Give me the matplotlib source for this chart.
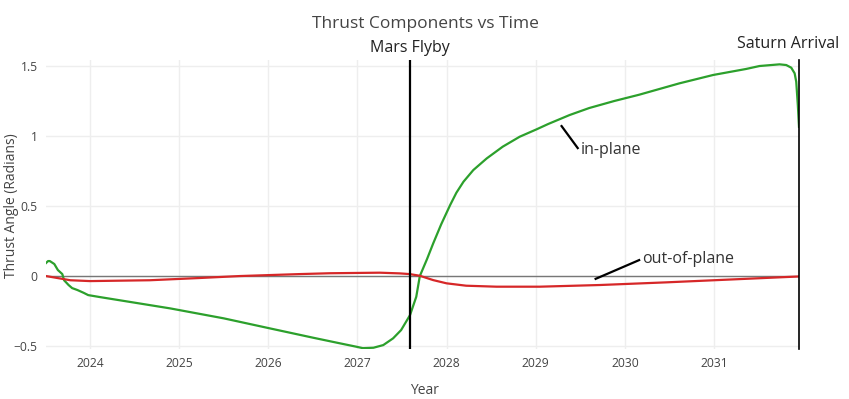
import numpy as np
import matplotlib.pyplot as plt
from matplotlib.ticker import FuncFormatter

plt.rcParams['font.family'] = ['Open Sans', 'DejaVu Sans']

# 数据
in_year = [2023.507, 2023.53, 2023.55, 2023.6, 2023.64, 2023.69, 2023.71, 2023.76, 2023.8,
           2023.86, 2023.93, 2023.98, 2024.11, 2024.9, 2025.5, 2026.02, 2026.5, 2026.8,
           2026.99, 2027.06, 2027.18, 2027.29, 2027.4, 2027.49, 2027.59, 2027.66, 2027.70,
           2027.78, 2027.85, 2027.94, 2028.04, 2028.11, 2028.19, 2028.3, 2028.45, 2028.63,
           2028.82, 2029.01, 2029.14, 2029.38, 2029.6, 2029.88, 2030.16, 2030.61, 2030.99,
           2031.36, 2031.51, 2031.735, 2031.81, 2031.866, 2031.904, 2031.922, 2031.94,
           2031.953]
in_plane = [0.093, 0.107, 0.107, 0.086, 0.043, 0.014, -0.03, -0.064, -0.086,
            -0.1, -0.12, -0.136, -0.15, -0.231, -0.302, -0.374, -0.44, -0.48,
            -0.505, -0.515, -0.512, -0.493, -0.445, -0.386, -0.279, -0.148, 0.0,
            0.12, 0.233, 0.37, 0.507, 0.595, 0.674, 0.757, 0.84, 0.924,
            0.995, 1.048, 1.086, 1.15, 1.2, 1.25, 1.295, 1.376, 1.436,
            1.479, 1.5, 1.512, 1.507, 1.488, 1.448, 1.388, 1.22,
            1.066]

out_year = [2023.507, 2023.78, 2024.0, 2024.67, 2025.23, 2025.68, 2026.35, 2026.69,
            2027.25, 2027.475, 2027.587, 2027.7, 2027.85, 2028.0, 2028.22, 2028.56,
            2029.045, 2029.72, 2030.465, 2031.21, 2031.953]
out_plane = [0.0, -0.03, -0.036, -0.03, -0.014, 0.0, 0.014, 0.02,
             0.024, 0.019, 0.014, 0.002, -0.029, -0.052, -0.069, -0.076,
             -0.076, -0.064, -0.045, -0.024, -0.003]

mars_flyby = 2027.594
saturn_arrival = 2031.953
x_range = [2023.507, 2031.953]
y_range = [-0.521, 1.543]

fig = plt.figure(figsize=(8.49, 3.99), dpi=100)
ax = fig.add_axes([46/849, 1 - 349/399, 753/849, 289/399])

ax.plot(x_range, [0, 0], color='#777777', lw=1.0, zorder=2)
ax.plot(in_year, in_plane, color='#2ca02c', lw=1.6, zorder=3)
ax.plot(out_year, out_plane, color='#d62728', lw=1.6, zorder=3)

ax.set_xlim(x_range)
ax.set_ylim(y_range)
ax.set_xticks(range(2024, 2032))
ax.set_yticks([-0.5, 0, 0.5, 1, 1.5])
ax.yaxis.set_major_formatter(FuncFormatter(lambda v, p: f'{v:g}'.replace('-', '\u2212')))
ax.grid(True, color='#eeeeee', lw=1.0)
ax.set_axisbelow(True)
for s in ax.spines.values():
    s.set_visible(False)
ax.tick_params(length=0, labelsize=8.7, colors='#444444', pad=6)

# 事件竖线
ax.axvline(mars_flyby, color='black', lw=1.6, zorder=4)
ax.axvline(saturn_arrival, color='black', lw=1.2, zorder=4, clip_on=False)
fig.text(ax.transData.transform((mars_flyby, 0))[0] / 849, 1 - 48/399, 'Mars Flyby',
         ha='center', va='center', fontsize=11.5, color='#222222')
fig.text(788/849, 1 - 44/399, 'Saturn Arrival', ha='center', va='center',
         fontsize=11.5, color='#222222')

# 注释
ax.plot([2029.29, 2029.471], [1.071, 0.914], color='black', lw=1.6, zorder=4)
ax.text(2029.505, 0.9, 'in-plane', fontsize=11.5, color='#333333', va='center', ha='left')
ax.plot([2029.672, 2030.16], [-0.02, 0.114], color='black', lw=1.6, zorder=4)
ax.text(2030.19, 0.125, 'out-of-plane', fontsize=11.5, color='#333333', va='center', ha='left')

fig.text(425/849, 1 - 24/399, 'Thrust Components vs Time', ha='center', va='center',
         fontsize=12.5, color='#444444')
fig.text(425/849, 1 - 391/399, 'Year', ha='center', va='center', fontsize=10, color='#444444')
fig.text(12/849, 1 - 206/399, 'Thrust Angle (Radians)', ha='center', va='center',
         rotation=90, fontsize=10, color='#444444')

plt.savefig('out.png', dpi=100)
